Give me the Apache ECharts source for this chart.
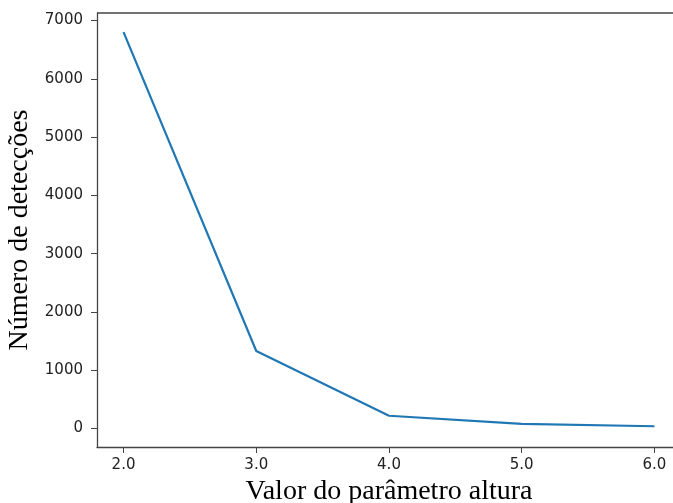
<!DOCTYPE html>
<html>
<head>
<meta charset="utf-8">
<script src="https://cdn.jsdelivr.net/npm/echarts@6/dist/echarts.min.js"></script>
<style>
  html, body { margin: 0; padding: 0; background: #fff; }
  #chart { width: 673px; height: 503px; }
</style>
</head>
<body>
<div id="chart"></div>
<script>
// Detections as a function of the height parameter
const alturaValues = [2.0, 3.0, 4.0, 5.0, 6.0];
const deteccoes = [6800, 1330, 220, 80, 40];
const xTicks = [2.0, 3.0, 4.0, 5.0, 6.0];
const yTicks = [0, 1000, 2000, 3000, 4000, 5000, 6000, 7000];

const chart = echarts.init(document.getElementById('chart'), null, { renderer: 'canvas' });

const spine = { show: true, onZero: false, lineStyle: { color: '#444', width: 1.3 } };
const tickStyle = { show: true, length: 6, lineStyle: { color: '#444', width: 1 } };
const tickFont = { color: '#222', fontFamily: 'DejaVu Sans', fontSize: 15 };

chart.setOption({
  animation: false,
  backgroundColor: '#fff',
  grid: { left: 97, right: -8, top: 13, bottom: 56, containLabel: false, outerBoundsMode: 'none' },
  xAxis: {
    type: 'value',
    min: 1.8,
    max: 6.2,
    interval: 0.2,
    axisLine: spine,
    axisTick: Object.assign({}, tickStyle, {
      customValues: xTicks
    }),
    axisLabel: Object.assign({}, tickFont, {
      margin: 11,
      customValues: xTicks,
      formatter: v => v.toFixed(1)
    }),
    splitLine: { show: false },
    name: 'Valor do parâmetro altura',
    nameLocation: 'middle',
    nameGap: 27,
    nameTextStyle: { fontFamily: 'Liberation Serif', fontSize: 28, color: '#000' }
  },
  yAxis: {
    type: 'value',
    min: -316,
    max: 7128,
    axisLine: spine,
    axisTick: Object.assign({}, tickStyle, { customValues: yTicks }),
    axisLabel: Object.assign({}, tickFont, {
      margin: 14,
      customValues: yTicks,
      formatter: v => String(v)
    }),
    splitLine: { show: false },
    name: 'Número de detecções',
    nameLocation: 'middle',
    nameGap: 53,
    nameRotate: 90,
    nameTextStyle: { fontFamily: 'Liberation Serif', fontSize: 28, color: '#000' }
  },
  series: [{
    type: 'line',
    data: alturaValues.map((x, i) => [x, deteccoes[i]]),
    showSymbol: false,
    lineStyle: { color: '#1f77b4', width: 2.2 },
    itemStyle: { color: '#1f77b4' }
  }]
});

// Top spine of the plot frame
const topLine = chart.convertToPixel({ gridIndex: 0 }, [1.8, 7128]);
chart.setOption({
  graphic: [{
    type: 'line',
    shape: { x1: topLine[0], y1: topLine[1], x2: 673, y2: topLine[1] },
    style: { stroke: '#444', lineWidth: 1.3 }
  }]
});
</script>
</body>
</html>
